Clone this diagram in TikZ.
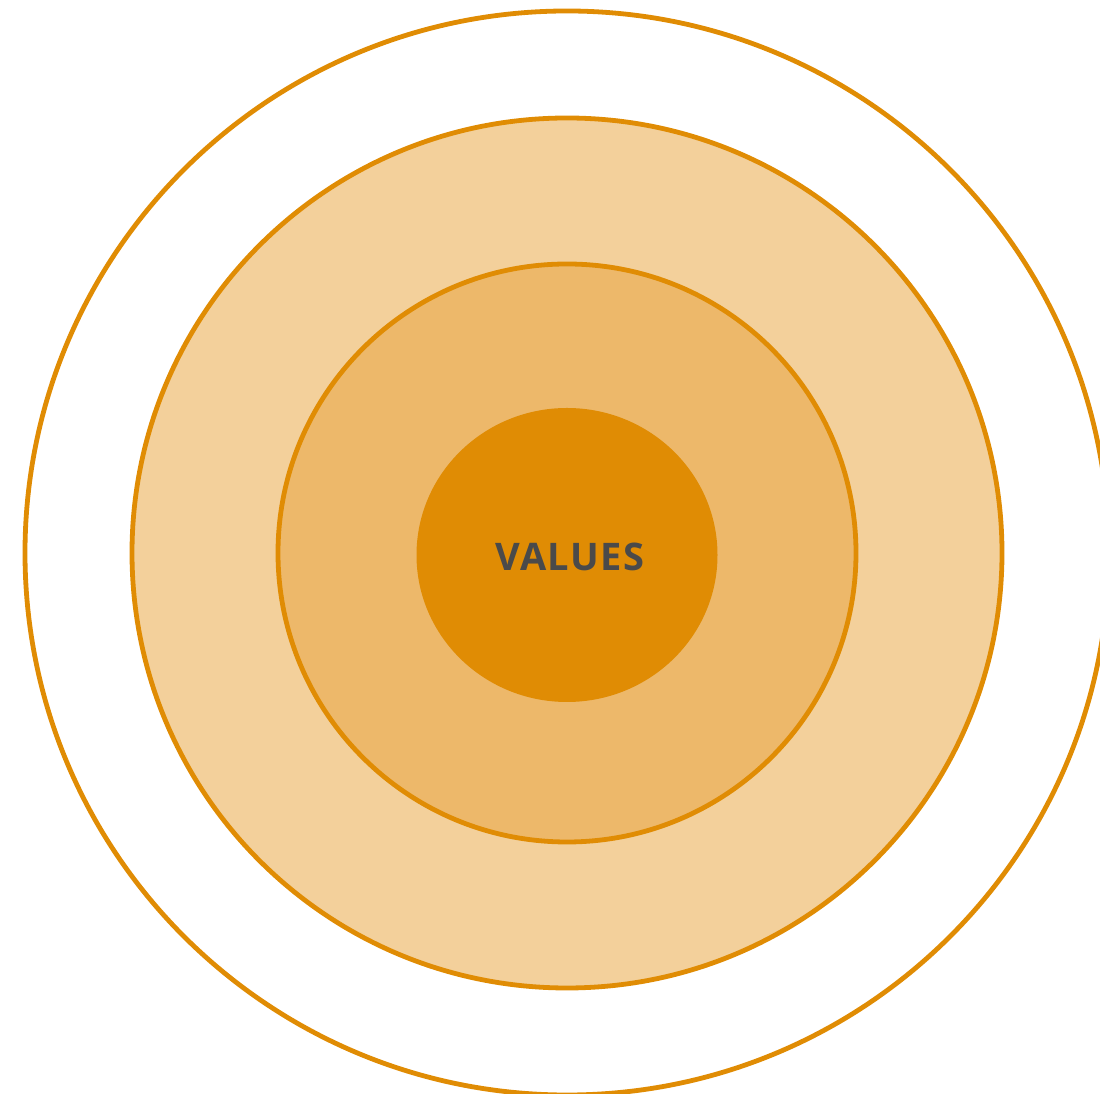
\documentclass[tikz,border=0pt]{standalone}
\usepackage{fontspec}
\setmainfont{Open Sans}
\newfontfamily\valuesfont[LetterSpace=4]{Open Sans}
\definecolor{ringorange}{HTML}{E08C04}
\definecolor{ringlight}{HTML}{F3D09B}
\definecolor{ringmid}{HTML}{EDB86A}
\definecolor{textgray}{HTML}{4A4A4A}
\begin{document}
\begin{tikzpicture}[x=1pt,y=1pt,
  ring/.style={draw=ringorange,line width=4.8pt},
  label/.style={font=\valuesfont\bfseries\fontsize{38}{40}\selectfont,text=textgray}]
\useasboundingbox (0,0) rectangle (1100,1094);
\clip (0,0) rectangle (1100,1094);
\coordinate (c) at (567,541);
\draw[ring] (c) circle[radius=542];
\draw[ring,fill=ringlight] (c) circle[radius=435];
\draw[ring,fill=ringmid] (c) circle[radius=289];
\fill[ringorange] (567,539) ellipse[x radius=150.5,y radius=147];
\node[label] (values) at (570,537) {VALUES};
\end{tikzpicture}
\end{document}
